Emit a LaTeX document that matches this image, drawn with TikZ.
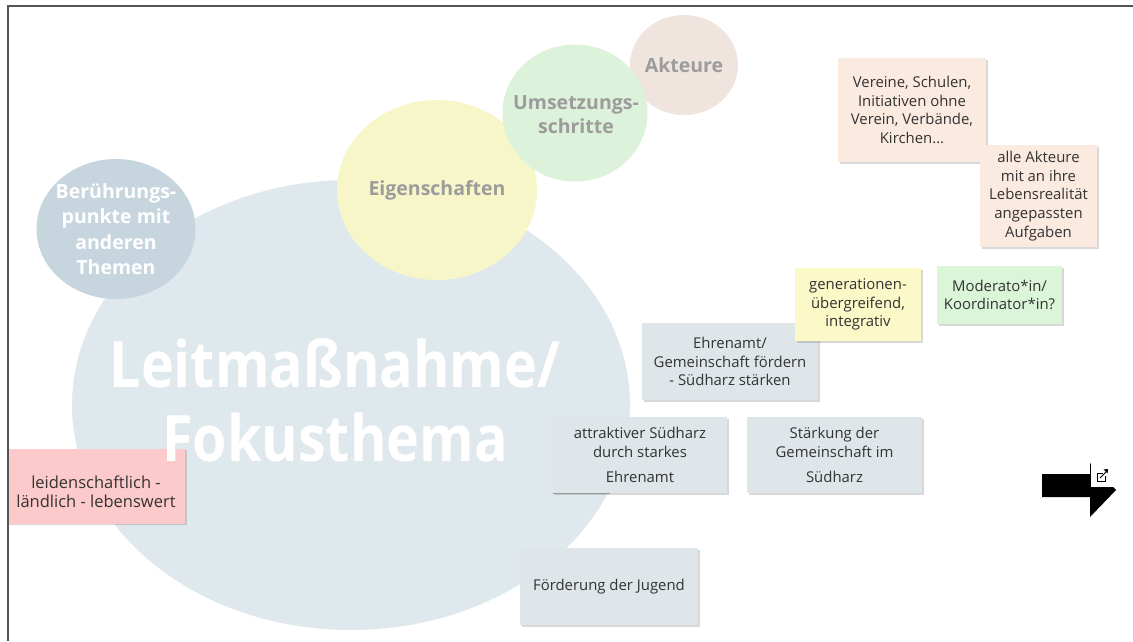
\documentclass[tikz,border=0pt]{standalone}
\usepackage{fontspec}
\setmainfont{Open Sans}
\usetikzlibrary{shapes.geometric,shadows}
\definecolor{bigc}{HTML}{DFE8EC}
\definecolor{berc}{HTML}{C7D5DE}
\definecolor{eigc}{HTML}{F7F6C8}
\definecolor{umsc}{HTML}{DDF2DA}
\definecolor{aktc}{HTML}{EFE4DE}
\definecolor{ctext}{HTML}{9C9C9C}
\definecolor{txt}{HTML}{333333}
\definecolor{boxc}{HTML}{DEE6EA}
\definecolor{peach}{HTML}{FBEAE0}
\definecolor{yelc}{HTML}{FBF9C7}
\definecolor{grnc}{HTML}{DAF5D7}
\definecolor{pinkc}{HTML}{FCCACA}
\definecolor{frame}{HTML}{555555}
\tikzset{
  bubble/.style={ellipse, inner sep=0pt, draw=none},
  note/.style={rectangle, inner sep=2pt, align=center, text=txt,
    font=\fontsize{14.9}{18.7}\selectfont,
    drop shadow={shadow xshift=1.5pt, shadow yshift=-1.5pt, opacity=.25, fill=black!60}},
  ctitle/.style={align=center, text=ctext, font=\fontsize{19.5}{24}\selectfont\bfseries},
}
\begin{document}
\begin{tikzpicture}[x=1pt,y=-1pt]
\useasboundingbox[fill=white] (0,0) rectangle (1133,641);
% bubbles
\node[bubble, fill=bigc, minimum width=558pt, minimum height=450pt] (big) at (351,405) {};
\node[bubble, fill=berc, minimum width=159pt, minimum height=140pt] (ber) at (116,229) {};
\node[align=center, text=white, font=\fontsize{19.5}{25.5}\selectfont\bfseries] (bert) at (ber.center) {Berührungs-\\punkte mit\\anderen\\Themen};
\node[bubble, fill=eigc, minimum width=200pt, minimum height=180pt] (eig) at (437,190) {};
\node[ctitle] (eigt) at (eig.center) {Eigenschaften};
\node[bubble, fill=aktc, minimum width=108pt, minimum height=100pt] (akt) at (684,65) {};
\node[ctitle] (aktt) at (akt.center) {Akteure};
\node[bubble, fill=umsc, minimum width=145pt, minimum height=137pt] (ums) at (575,113) {};
\node[ctitle] (umst) at (576,115) {Umsetzungs-\\schritte};
% pink note
\node[note, fill=pinkc, minimum width=178pt, minimum height=75pt] (leid) at (96,486) {};
\node[align=center, text=txt, font=\fontsize{16.5}{19}\selectfont] (leidt) at (96,492) {leidenschaftlich -\\ländlich - lebenswert};
% big title
\node[text=white, inner sep=0pt] (title) at (335,410) {\scalebox{0.87}[1]{\fontsize{64}{74}\selectfont\bfseries\begin{tabular}{@{}c@{}}Leitmaßnahme/\\Fokusthema\end{tabular}}};
% notes
\node[note, fill=boxc, minimum width=176pt, minimum height=77pt] (ehr) at (730,361.5) {Ehrenamt/\\Gemeinschaft fördern\\- Südharz stärken};
\node[note, fill=boxc, minimum width=174pt, minimum height=76pt] (attr) at (640,455) {attraktiver Südharz\\durch starkes\\[7pt]Ehrenamt};
\draw[black!40, line width=1.3pt] (attr.south west) -- ++(57,0);
\node[note, fill=boxc, minimum width=175pt, minimum height=76pt] (staerk) at (834.5,455) {Stärkung der\\Gemeinschaft im\\[7pt]Südharz};
\node[note, fill=boxc, minimum width=178pt, minimum height=77pt] (foerd) at (609,586.5) {Förderung der Jugend};
\node[note, fill=peach, minimum width=148pt, minimum height=104pt] (ver) at (912,110) {Vereine, Schulen,\\Initiativen ohne\\Verein, Verbände,\\Kirchen...};
\node[note, fill=peach, minimum width=117pt, minimum height=102pt] (alle) at (1038.5,196) {alle Akteure\\mit an ihre\\Lebensrealität\\angepassten\\Aufgaben};
\node[note, fill=yelc, minimum width=126pt, minimum height=73pt] (gen) at (858,304.5) {generationen-\\übergreifend,\\integrativ};
\node[note, fill=grnc, minimum width=125pt, minimum height=58pt] (mod) at (999.5,295) {Moderato*in/\\Koordinator*in?};
% arrow
\fill[black] (1042,474) -- (1090,474) -- (1090,463) -- (1116,490) -- (1090,517) -- (1090,497) -- (1042,497) -- cycle;
\fill[white] (1091,458) rectangle (1120,487);
\draw[black, line width=1pt] (1103,473) -- (1097,473) -- (1097,481) -- (1105,481) -- (1105,476);
\draw[black, line width=1pt] (1100,478) -- (1107,471);
\fill[black] (1108,469) -- (1103.5,469.5) -- (1107.5,473.5) -- cycle;
% frame
\draw[frame, line width=1.5pt] (8,641) -- (8,6) -- (1133,6);
\end{tikzpicture}
\end{document}
